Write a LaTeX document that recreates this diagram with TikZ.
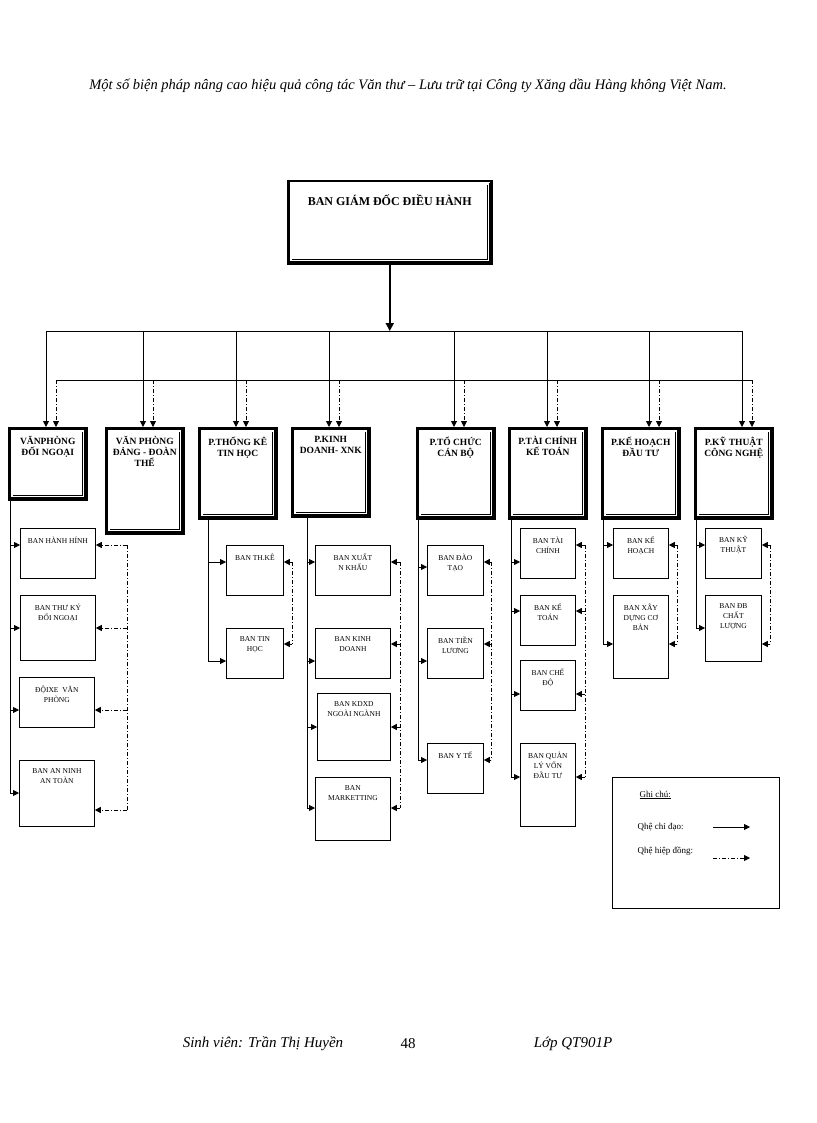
\documentclass[tikz,border=0pt]{standalone}
\usepackage{fontspec}
\setmainfont{Liberation Serif}
\usetikzlibrary{arrows.meta}
\tikzset{every picture/.style={line width=0.75pt}}
\tikzset{
  dept/.style={draw, line width=2.5pt, anchor=north west, inner sep=0pt},
  sub/.style={draw, line width=0.8pt, anchor=north west, inner sep=0pt},
  dlbl/.style={anchor=north, align=center, font=\bfseries\fontsize{9.5}{11}\selectfont, yshift=-6pt},
  slbl/.style={anchor=north, align=center, font=\fontsize{7.5}{10}\selectfont, yshift=-5pt},
  lead/.style={-{Triangle[length=6pt,width=6pt]}},
  coop/.style={dash pattern=on 4pt off 2pt on 1pt off 2pt, -{Triangle[length=6pt,width=6pt]}},
}
\newcommand{\deptbox}[6]{%
  \node[dept, minimum width=#4-#2, minimum height=#5-#3, label={[dlbl]north:#6}] (#1) at (#2,#3) {};
  \draw[double, double distance=1.2pt, line width=0.6pt] ([shift={(4,4)}]#1.north west) rectangle ([shift={(-4,-4)}]#1.south east);}
\newcommand{\subbox}[6]{%
  \node[sub, minimum width=#4-#2, minimum height=#5-#3, label={[slbl]north:#6}] (#1) at (#2,#3) {};}
\begin{document}
\begin{tikzpicture}[x=1pt,y=1pt,yscale=-1]
\useasboundingbox (0,0) rectangle (816,1123);
% header and footer
\node[font=\itshape\fontsize{14.5}{16}\selectfont] (title) at (408,86) {Một số biện pháp nâng cao hiệu quả công tác Văn thư -- Lưu trữ tại Công ty Xăng dầu Hàng không Việt Nam.};
\node[font=\itshape\fontsize{15}{17}\selectfont] (sv) at (263,1044) {Sinh viên: Trần Thị Huyền};
\node[font=\fontsize{15}{17}\selectfont] (page) at (408,1044) {48};
\node[font=\itshape\fontsize{15}{17}\selectfont] (lop) at (573,1044) {Lớp QT901P};

% top box
\node[dept, minimum width=203, minimum height=82, label={[dlbl, font=\bfseries\fontsize{12}{14}\selectfont, yshift=-5pt]north:BAN GIÁM ĐỐC ĐIỀU HÀNH}] (bgd) at (287,180) {};
\draw[double, double distance=1.2pt, line width=0.6pt] ([shift={(4,4)}]bgd.north west) rectangle ([shift={(-4,-4)}]bgd.south east);
\coordinate (busL) at (46,331);
\coordinate (busR) at (742,331);
\coordinate (dashL) at (56,380);
\coordinate (dashR) at (752,380);
\draw[line width=2pt, -{Triangle[length=8pt,width=8pt]}] (bgd.south) -- (bgd.south |- busL);
\draw[line width=1pt] (busL) -- (busR);
\draw (dashL) -- (dashR);

% departments
\deptbox{d1}{8}{427}{85}{498}{VĂNPHÒNG\\ĐỐI NGOẠI}
\deptbox{d2}{105}{427}{182}{532}{VĂN PHÒNG\\ĐẢNG - ĐOÀN\\THỂ}
\deptbox{d3}{198}{427}{275}{517}{P.THỐNG KÊ\\TIN HỌC}
\deptbox{d4}{291}{427}{368}{515}{P.KINH\\DOANH- XNK}
\deptbox{d5}{416}{427}{493}{517}{P.TỔ CHỨC\\CÁN BỘ}
\deptbox{d6}{508}{427}{585}{517}{P.TÀI CHÍNH\\KẾ TOÁN}
\deptbox{d7}{601}{427}{678}{517}{P.KẾ HOẠCH\\ĐẦU TƯ}
\deptbox{d8}{694}{427}{771}{517}{P.KỸ THUẬT\\CÔNG NGHỆ}
\foreach \n/\x in {d1/46,d2/143,d3/236,d4/329,d5/454,d6/547,d7/649,d8/742}{
  \draw[lead, line width=1pt] (\x,331) -- (\x,427);
  \draw[coop] (\x+10,380) -- (\x+10,427);
}

% sub units
\subbox{s11}{20}{528}{95}{578}{BAN HÀNH HÍNH}
\subbox{s12}{20}{595}{95}{660}{BAN THƯ KÝ\\ĐỐI NGOẠI}
\subbox{s13}{19}{677}{94}{727}{ĐỘIXE\ \ VĂN\\PHÒNG}
\subbox{s14}{19}{760}{94}{826}{BAN AN NINH\\AN TOÀN}
\subbox{s31}{226}{545}{283}{595}{BAN TH.KÊ}
\subbox{s32}{226}{628}{283}{678}{BAN TIN\\HỌC}
\subbox{s41}{315}{545}{390}{595}{BAN XUẤT\\N KHẨU}
\subbox{s42}{315}{628}{390}{678}{BAN KINH\\DOANH}
\subbox{s43}{317}{693}{390}{760}{BAN KDXD\\NGOÀI NGÀNH}
\subbox{s44}{315}{777}{390}{840}{BAN\\MARKETTING}
\subbox{s51}{427}{545}{483}{595}{BAN ĐÀO\\TẠO}
\subbox{s52}{427}{628}{483}{678}{BAN TIỀN\\LƯƠNG}
\subbox{s53}{427}{743}{483}{793}{BAN Y TẾ}
\subbox{s61}{520}{528}{575}{578}{BAN TÀI\\CHÍNH}
\subbox{s62}{520}{595}{575}{645}{BAN KẾ\\TOÁN}
\subbox{s63}{520}{660}{575}{710}{BAN CHẾ\\ĐỘ}
\subbox{s64}{520}{743}{575}{826}{BAN QUẢN\\LÝ VỐN\\ĐẦU TƯ}
\subbox{s71}{613}{528}{668}{578}{BAN KẾ\\HOẠCH}
\subbox{s72}{613}{595}{668}{678}{BAN XÂY\\DỰNG CƠ\\BẢN}
\subbox{s81}{705}{528}{761}{578}{BAN KỸ\\THUẬT}
\subbox{s82}{705}{595}{761}{661}{BAN ĐB\\CHẤT\\LƯỢNG}

% solid feeders on the left, dash-dot feeders on the right
\draw (10,498) -- (10,793);
\foreach \n/\y in {s11/545,s12/628,s13/710,s14/793} \draw[lead] (10,\y) -- (\n.west |- 0,\y);
\draw[dash pattern=on 4pt off 2pt on 1pt off 2pt] (127,545) -- (127,810);
\foreach \n/\y in {s11/545,s12/628,s13/710,s14/810} \draw[coop] (127,\y) -- (\n.east |- 0,\y);

\draw (208,517) -- (208,661);
\foreach \n/\y in {s31/562,s32/661} \draw[lead] (208,\y) -- (\n.west |- 0,\y);
\draw[dash pattern=on 4pt off 2pt on 1pt off 2pt] (292,562) -- (292,644);
\foreach \n/\y in {s31/562,s32/644} \draw[coop] (292,\y) -- (\n.east |- 0,\y);

\draw (307,515) -- (307,808);
\foreach \n/\y in {s41/562,s42/661,s43/727,s44/808} \draw[lead] (307,\y) -- (\n.west |- 0,\y);
\draw[dash pattern=on 4pt off 2pt on 1pt off 2pt] (400,562) -- (400,808);
\foreach \n/\y in {s41/562,s42/644,s43/727,s44/808} \draw[coop] (400,\y) -- (\n.east |- 0,\y);

\draw (418,517) -- (418,760);
\foreach \n/\y in {s51/567,s52/661,s53/760} \draw[lead] (418,\y) -- (\n.west |- 0,\y);
\draw[dash pattern=on 4pt off 2pt on 1pt off 2pt] (491,562) -- (491,760);
\foreach \n/\y in {s51/562,s52/644,s53/760} \draw[coop] (491,\y) -- (\n.east |- 0,\y);

\draw (511,517) -- (511,777);
\foreach \n/\y in {s61/562,s62/611,s63/694,s64/777} \draw[lead] (511,\y) -- (\n.west |- 0,\y);
\draw[dash pattern=on 4pt off 2pt on 1pt off 2pt] (585,545) -- (585,777);
\foreach \n/\y in {s61/545,s62/611,s63/694,s64/777} \draw[coop] (585,\y) -- (\n.east |- 0,\y);

\draw (603,517) -- (603,644);
\foreach \n/\y in {s71/545,s72/644} \draw[lead] (603,\y) -- (\n.west |- 0,\y);
\draw[dash pattern=on 4pt off 2pt on 1pt off 2pt] (677,545) -- (677,644);
\foreach \n/\y in {s71/545,s72/644} \draw[coop] (677,\y) -- (\n.east |- 0,\y);

\draw (696,517) -- (696,628);
\foreach \n/\y in {s81/545,s82/628} \draw[lead] (696,\y) -- (\n.west |- 0,\y);
\draw[dash pattern=on 4pt off 2pt on 1pt off 2pt] (770,545) -- (770,644);
\foreach \n/\y in {s81/545,s82/644} \draw[coop] (770,\y) -- (\n.east |- 0,\y);

% legend
\node[sub, minimum width=167, minimum height=131] (legend) at (612,777) {};
\node[anchor=west, font=\fontsize{9}{10}\selectfont] (ghichu) at (636,795) {\underline{Ghi chú:}};
\node[anchor=west, font=\fontsize{9}{10}\selectfont] (qcd) at (634,827) {Qhệ chỉ đạo:};
\node[anchor=west, font=\fontsize{9}{10}\selectfont] (qhd) at (634,851) {Qhệ hiệp đồng:};
\coordinate (a1) at (713,827); \coordinate (a2) at (750,827);
\coordinate (b1) at (713,858); \coordinate (b2) at (750,858);
\draw[lead] (a1) -- (a2);
\draw[coop] (b1) -- (b2);
\end{tikzpicture}
\end{document}
